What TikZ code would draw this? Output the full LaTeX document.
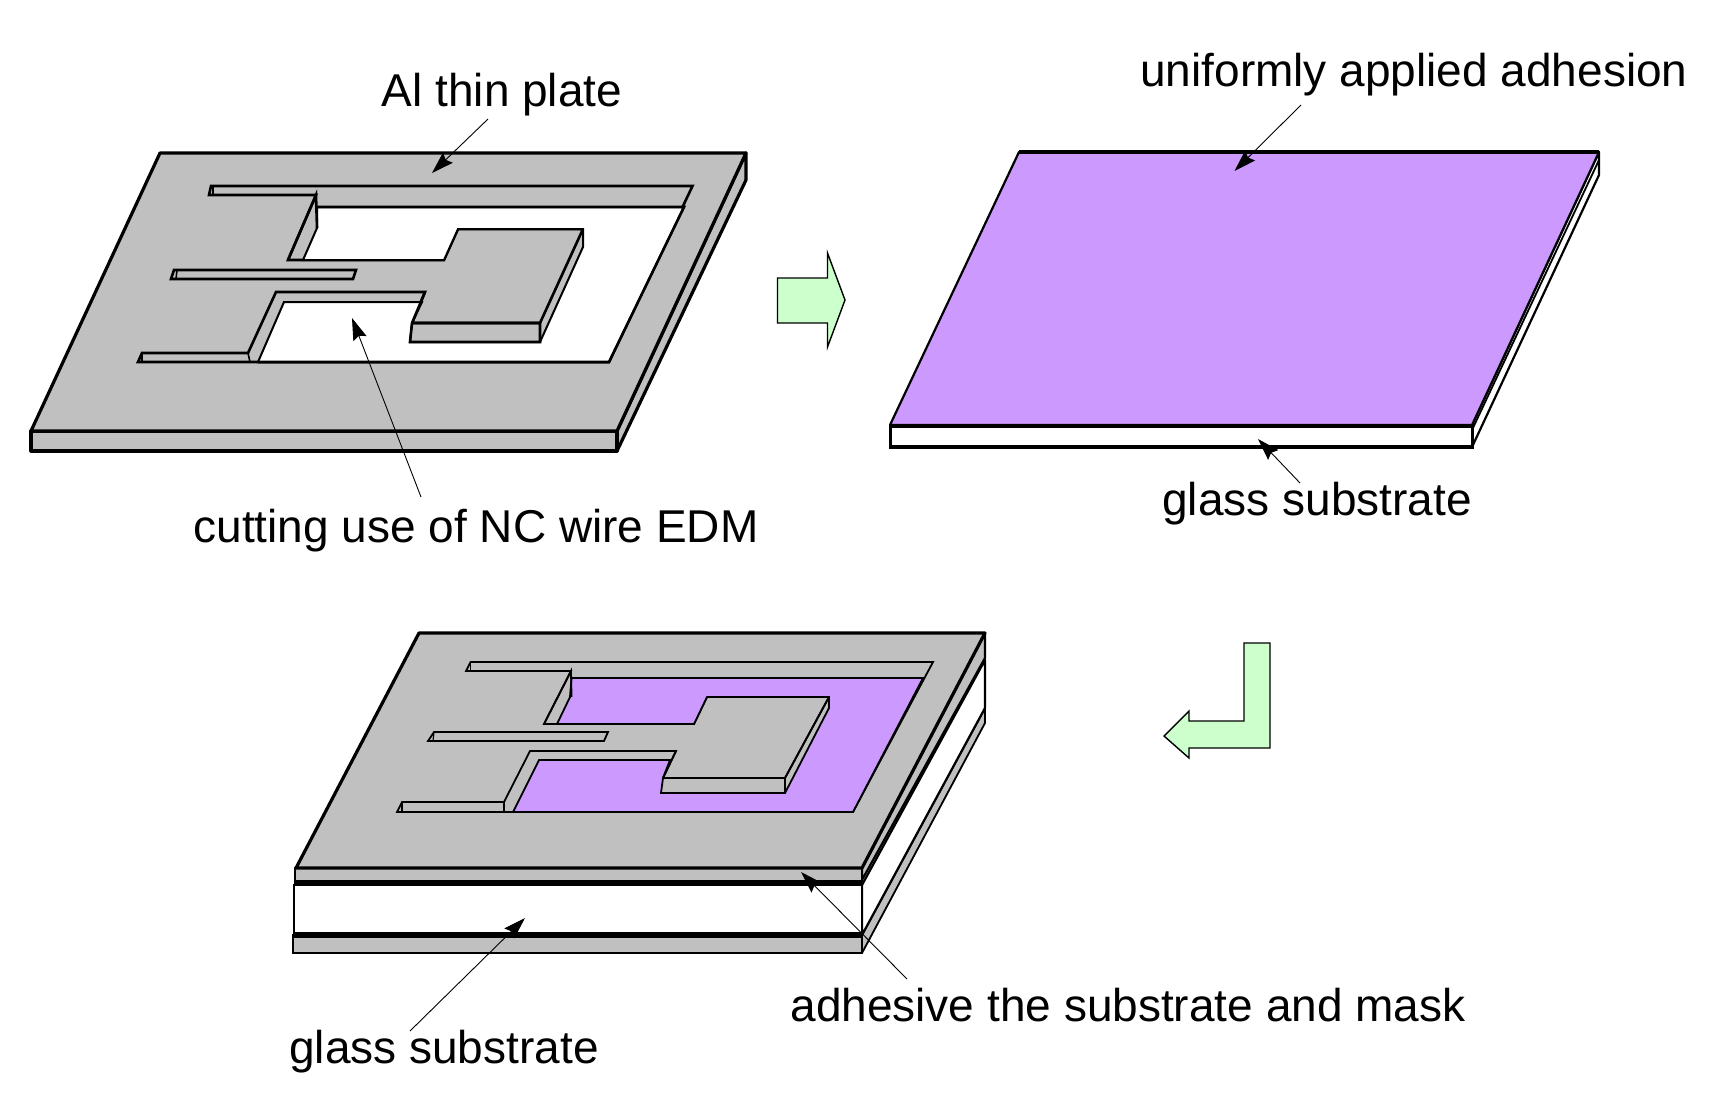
\documentclass[tikz,border=0pt]{standalone}
\usepackage{fontspec}
\setmainfont{Liberation Sans}
\usetikzlibrary{arrows.meta}
\definecolor{plategrey}{HTML}{C0C0C0}
\definecolor{adhesive}{HTML}{CC99FF}
\definecolor{arrowgreen}{HTML}{CCFFCC}
\tikzset{
  outerline/.style={draw=black,line width=1.6pt,line join=round,fill=plategrey},
  holeline/.style={draw=black,line width=1.3pt,line join=miter,fill=plategrey},
  floorline/.style={draw=black,line width=1pt,line join=miter},
  thinhole/.style={draw=black,line width=.9pt,line join=miter,fill=plategrey},
  thinfloor/.style={draw=black,line width=.9pt,line join=miter},
  label/.style={inner sep=0pt,font=\fontsize{23}{27}\selectfont,anchor=base},
  leader/.style={draw=black,line width=.45pt,-{Stealth[length=11pt,width=7pt,inset=1.5pt]}},
  bigarrow/.style={draw=black,line width=.7pt,fill=arrowgreen,line join=miter},
}
\begin{document}
\begin{tikzpicture}[x=0.5pt,y=-0.5pt]
\useasboundingbox (0,0) rectangle (1725,1104);

% ---------- upper left: Al thin plate ----------
\path[outerline] (617,431) -- (746,153) -- (746,180) -- (617,451) -- cycle;
\path[outerline] (31,431) -- (617,431) -- (617,451) -- (31,451) -- cycle;
\path[outerline] (160,153) -- (746,153) -- (617,431) -- (31,431) -- cycle;
\path[holeline] (211,186) -- (692.5,186) -- (609,362) -- (138,362) -- (142,353) -- (248,353) -- (276,292) -- (425,292) -- (412,323) -- (540,323) -- (583,229) -- (458,229) -- (444,260) -- (288,260) -- (316,195) -- (209,195) -- cycle;
\path[floorline,fill=white] (317,207) -- (684,207) -- (609,362) -- (258,362) -- (284,302) -- (422,302) -- (412,323) -- (410,342) -- (540,342) -- (583,247) -- (583,229) -- (458,229) -- (444,260) -- (303,260) -- (317,228) -- cycle;
\draw[line width=1.3pt] (412,323) -- (540,323) -- (540,342) -- (410,342) -- (412,323);
\draw[line width=1.3pt] (412,323) -- (425,292);
\draw[line width=1.3pt] (288,260) -- (316,195) -- (317,228);
\draw[line width=1.3pt] (444,260) -- (288,260);
\draw[line width=1.3pt] (258,362) -- (609,362) -- (684,207) -- (317,207);
\draw[line width=.8pt] (248,353) -- (250,362);
\draw[line width=.8pt] (540,323) -- (583,229);
\draw[line width=.8pt] (142,353) -- (142,362);
\draw[line width=.8pt] (213,186) -- (213,195);
\path[holeline] (174,270) -- (356,270) -- (353,279) -- (171,279) -- cycle;
\draw[line width=.8pt] (177,270) -- (176,279);

% ---------- upper right: adhesive on glass ----------
\path[draw=black,line width=1.1pt,line join=round,fill=white] (1472,425) -- (1599,152) -- (1599,175) -- (1472,447) -- cycle;
\draw[line width=.9pt] (1472,430) -- (1599,160);
\path[draw=black,line width=1.5pt,fill=white] (890,425) -- (1472,425) -- (1472,447) -- (890,447) -- cycle;
\path[draw=black,line width=1.1pt,line join=round,fill=adhesive] (1019,152) -- (1599,152) -- (1472,425) -- (890,425) -- cycle;
\draw[line width=2.4pt] (890,426) -- (1472,426);
\draw[line width=2.2pt] (1019,152) -- (1599,152);
\draw[line width=2.4pt] (889,447) -- (1473,447);

% ---------- bottom: assembled ----------
\path[draw=black,line width=.9pt,line join=round,fill=plategrey] (862,935) -- (985,708) -- (985,723) -- (862,953) -- cycle;
\path[draw=black,line width=1.1pt,line join=round,fill=white] (862,885) -- (985,660) -- (985,708) -- (862,935) -- cycle;
\path[draw=black,line width=1.1pt,line join=round,fill=plategrey] (862,868) -- (985,633) -- (985,658) -- (862,880) -- cycle;
\path[draw=black,line width=1.3pt,fill=plategrey] (293,935) -- (862,935) -- (862,953) -- (293,953) -- cycle;
\path[draw=black,line width=1pt,fill=white] (294,885) -- (862,885) -- (862,935) -- (294,935) -- cycle;
\draw[line width=2.6pt] (293,935) -- (862,935);
\path[draw=black,line width=1pt,fill=plategrey] (295,868) -- (862,868) -- (862,881) -- (295,881) -- cycle;
\draw[line width=1.8pt] (294,883.5) -- (862,883.5);
\path[outerline] (419,633) -- (985,633) -- (862,868) -- (296,868) -- cycle;
\path[thinhole] (470.5,662) -- (933,662) -- (853,812) -- (397,812) -- (402,802) -- (504,802) -- (530,751) -- (676,751) -- (663,778) -- (785,778) -- (829,697) -- (707,697) -- (694,724) -- (544,724) -- (571,671) -- (466,671) -- cycle;
\path[thinfloor,fill=adhesive] (571.5,678) -- (923,678) -- (853,812) -- (513,812) -- (539,760) -- (670,760) -- (663,778) -- (661,793) -- (785,793) -- (829,708) -- (829,697) -- (707,697) -- (694,724) -- (557,724) -- (570,697) -- cycle;
\draw[line width=.9pt] (663,778) -- (785,778) -- (785,793);
\draw[line width=.9pt] (785,778) -- (829,697);
\draw[line width=.9pt] (544,724) -- (571,671) -- (571.5,697);
\draw[line width=.9pt] (504,802) -- (504,812);
\draw[line width=.9pt] (663,778) -- (676,751);
\draw[line width=.6pt] (470.5,662) -- (470.5,671);
\draw[line width=.6pt] (402,802) -- (402,812);
\path[thinhole] (434,732) -- (608,732) -- (604,741) -- (428,741) -- cycle;
\draw[line width=.6pt] (434,732) -- (433,741);

% ---------- process arrows ----------
\path[bigarrow] (777.5,278) -- (827.5,278) -- (827.5,253) -- (845,300) -- (827.5,347) -- (827.5,323) -- (777.5,323) -- cycle;
\path[bigarrow] (1244,643) -- (1270,643) -- (1270,748) -- (1189,748) -- (1189,758) -- (1164,736) -- (1189,711) -- (1189,721) -- (1244,721) -- cycle;

% ---------- labels ----------
\node[label] (lblAl) at (502,106) {Al thin plate};
\node[label] (lblUni) at (1414,86) {uniformly applied adhesion};
\node[label] (lblGlassA) at (1317,515) {glass substrate};
\node[label] (lblCut) at (476,542) {cutting use of NC wire EDM};
\node[label] (lblAdh) at (1128,1021) {adhesive the substrate and mask};
\node[label] (lblGlassB) at (444,1063) {glass substrate};

% ---------- leaders ----------
\coordinate (tipAl) at (432,173);
\coordinate (tipCut) at (352,318);
\coordinate (tipUni) at (1234.5,171);
\coordinate (tipGlassA) at (1258,439);
\coordinate (tipGlassB) at (525,918);
\coordinate (tipAdh) at (801,872);
\draw[leader] ([shift={(-14,13)}]lblAl.base) -- (tipAl);
\draw[leader] ([shift={(-55,-45)}]lblCut.base) -- (tipCut);
\draw[leader] ([shift={(-113,19)}]lblUni.base) -- (tipUni);
\draw[leader] ([shift={(-17,-32)}]lblGlassA.base) -- (tipGlassA);
\draw[leader] ([shift={(-34,-32)}]lblGlassB.base) -- (tipGlassB);
\draw[leader] ([shift={(-221,-42)}]lblAdh.base) -- (tipAdh);
\end{tikzpicture}
\end{document}
